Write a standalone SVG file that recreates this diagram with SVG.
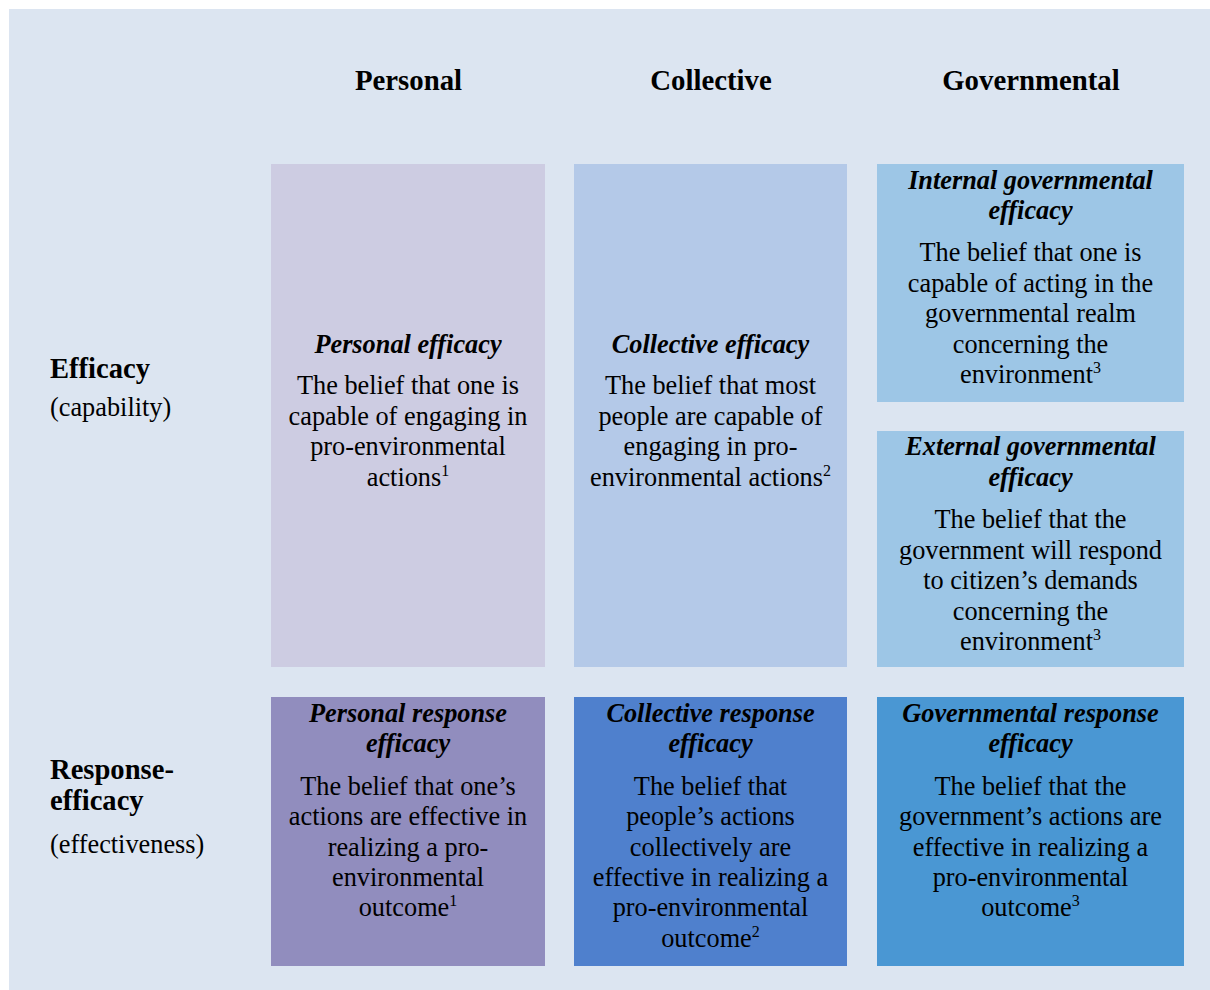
<svg xmlns="http://www.w3.org/2000/svg" width="1210" height="990" viewBox="0 0 1210 990">
  <style>
    text { font-family: "Liberation Serif", "Times New Roman", serif; fill: #000; }
    .hdr { font-size: 28.8px; font-weight: bold; text-anchor: middle; }
    .row { font-size: 28.6px; font-weight: bold; }
    .sub { font-size: 26.3px; }
    .ttl { font-size: 26.3px; font-weight: bold; font-style: italic; text-anchor: middle; }
    .body { font-size: 26.3px; text-anchor: middle; }
    .sup { font-size: 16px; }
  </style>

  <!-- panel background -->
  <rect x="0" y="0" width="1210" height="990" fill="#ffffff"/>
  <rect x="9" y="9" width="1201" height="981" fill="#DCE5F1"/>

  <!-- column headers -->
  <g id="column-headers">
    <text class="hdr" x="408.5" y="90">Personal</text>
    <text class="hdr" x="711" y="90">Collective</text>
    <text class="hdr" x="1031" y="90">Governmental</text>
  </g>

  <!-- row headers -->
  <g id="row-efficacy">
    <text class="row" x="50" y="378">Efficacy</text>
    <text class="sub" x="50" y="416">(capability)</text>
  </g>
  <g id="row-response-efficacy">
    <text class="row" x="50" y="779">Response-</text>
    <text class="row" x="50" y="810">efficacy</text>
    <text class="sub" x="50" y="853">(effectiveness)</text>
  </g>

  <!-- efficacy row -->
  <g id="personal-efficacy">
    <rect x="271" y="164" width="274" height="503" fill="#CDCCE2"/>
    <text class="ttl" x="408" y="353">Personal efficacy</text>
    <text class="body" x="408" y="394">The belief that one is</text>
    <text class="body" x="408" y="424.5">capable of engaging in</text>
    <text class="body" x="408" y="455">pro-environmental</text>
    <text class="body" x="408" y="485.5">actions<tspan class="sup" dy="-10">1</tspan></text>
  </g>

  <g id="collective-efficacy">
    <rect x="574" y="164" width="273" height="503" fill="#B4C9E8"/>
    <text class="ttl" x="710.5" y="353">Collective efficacy</text>
    <text class="body" x="710.5" y="394">The belief that most</text>
    <text class="body" x="710.5" y="424.5">people are capable of</text>
    <text class="body" x="710.5" y="455">engaging in pro-</text>
    <text class="body" x="710.5" y="485.5">environmental actions<tspan class="sup" dy="-10">2</tspan></text>
  </g>

  <g id="internal-governmental-efficacy">
    <rect x="877" y="164" width="307" height="238" fill="#9DC6E6"/>
    <text class="ttl" x="1030.5" y="189">Internal governmental</text>
    <text class="ttl" x="1030.5" y="219">efficacy</text>
    <text class="body" x="1030.5" y="261">The belief that one is</text>
    <text class="body" x="1030.5" y="291.5">capable of acting in the</text>
    <text class="body" x="1030.5" y="322">governmental realm</text>
    <text class="body" x="1030.5" y="352.5">concerning the</text>
    <text class="body" x="1030.5" y="383">environment<tspan class="sup" dy="-10">3</tspan></text>
  </g>

  <g id="external-governmental-efficacy">
    <rect x="877" y="431" width="307" height="236" fill="#9DC6E6"/>
    <text class="ttl" x="1030.5" y="455">External governmental</text>
    <text class="ttl" x="1030.5" y="486">efficacy</text>
    <text class="body" x="1030.5" y="528">The belief that the</text>
    <text class="body" x="1030.5" y="558.5">government will respond</text>
    <text class="body" x="1030.5" y="589">to citizen’s demands</text>
    <text class="body" x="1030.5" y="619.5">concerning the</text>
    <text class="body" x="1030.5" y="650">environment<tspan class="sup" dy="-10">3</tspan></text>
  </g>

  <!-- response-efficacy row -->
  <g id="personal-response-efficacy">
    <rect x="271" y="697" width="274" height="269" fill="#918DBE"/>
    <text class="ttl" x="408" y="722">Personal response</text>
    <text class="ttl" x="408" y="752">efficacy</text>
    <text class="body" x="408" y="795">The belief that one’s</text>
    <text class="body" x="408" y="825">actions are effective in</text>
    <text class="body" x="408" y="855.5">realizing a pro-</text>
    <text class="body" x="408" y="886">environmental</text>
    <text class="body" x="408" y="916">outcome<tspan class="sup" dy="-10">1</tspan></text>
  </g>

  <g id="collective-response-efficacy">
    <rect x="574" y="697" width="273" height="269" fill="#4F80CD"/>
    <text class="ttl" x="710.5" y="722">Collective response</text>
    <text class="ttl" x="710.5" y="752">efficacy</text>
    <text class="body" x="710.5" y="795">The belief that</text>
    <text class="body" x="710.5" y="825">people’s actions</text>
    <text class="body" x="710.5" y="855.5">collectively are</text>
    <text class="body" x="710.5" y="886">effective in realizing a</text>
    <text class="body" x="710.5" y="916">pro-environmental</text>
    <text class="body" x="710.5" y="946.5">outcome<tspan class="sup" dy="-10">2</tspan></text>
  </g>

  <g id="governmental-response-efficacy">
    <rect x="877" y="697" width="307" height="269" fill="#4A97D3"/>
    <text class="ttl" x="1030.5" y="722">Governmental response</text>
    <text class="ttl" x="1030.5" y="752">efficacy</text>
    <text class="body" x="1030.5" y="795">The belief that the</text>
    <text class="body" x="1030.5" y="825">government’s actions are</text>
    <text class="body" x="1030.5" y="855.5">effective in realizing a</text>
    <text class="body" x="1030.5" y="886">pro-environmental</text>
    <text class="body" x="1030.5" y="916">outcome<tspan class="sup" dy="-10">3</tspan></text>
  </g>

  <!-- no connectors in this table layout -->
  <g id="connectors"/>
</svg>
